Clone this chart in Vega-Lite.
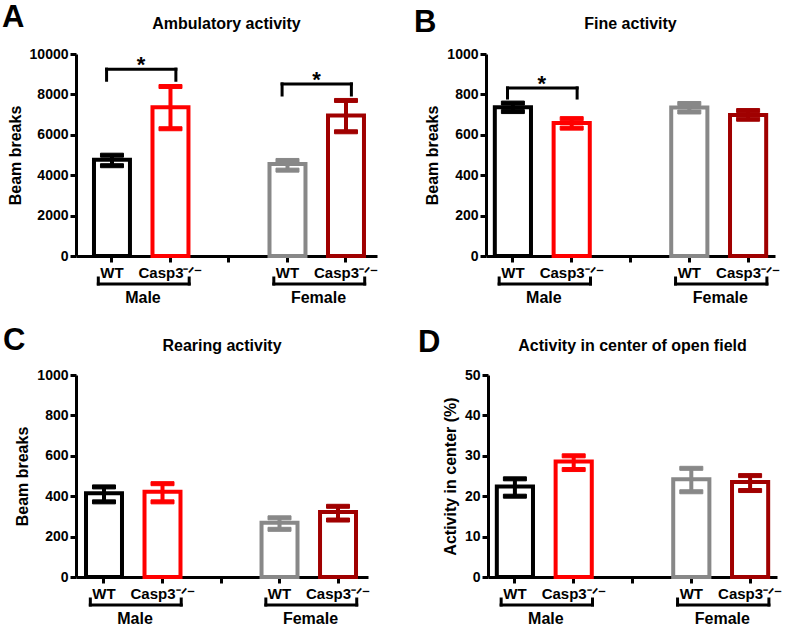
{
  "$schema": "https://vega.github.io/schema/vega-lite/v6.json",
  "padding": {"left": 2, "top": 2, "right": 0, "bottom": 0},
  "background": "white",
  "config": {
    "font": "Liberation Sans",
    "view": {"stroke": null},
    "axis": {"domainColor": "black", "domainWidth": 3, "tickColor": "black", "tickWidth": 3, "tickSize": 6, "labelColor": "black", "labelFontWeight": "bold", "titleColor": "black", "titleFontWeight": "bold", "grid": false},
    "axisY": {"labelFontSize": 14, "titleFontSize": 16, "titlePadding": 6, "labelPadding": 2, "format": "d"},
    "axisX": {"labelFontSize": 15, "labelAngle": 0, "labelPadding": 3},
    "title": {"fontSize": 16, "fontWeight": "bold", "color": "black", "anchor": "middle"},
    "tick": {"opacity": 1}
  },
  "datasets": {
    "bars": [
      {"panel": "A", "cat": "M_WT", "mean": 4770, "lo": 4470, "hi": 4990},
      {"panel": "A", "cat": "M_KO", "mean": 7370, "lo": 6300, "hi": 8390},
      {"panel": "A", "cat": "F_WT", "mean": 4550, "lo": 4250, "hi": 4730},
      {"panel": "A", "cat": "F_KO", "mean": 6960, "lo": 6150, "hi": 7700},
      {"panel": "B", "cat": "M_WT", "mean": 737, "lo": 715, "hi": 757},
      {"panel": "B", "cat": "M_KO", "mean": 658, "lo": 633, "hi": 680},
      {"panel": "B", "cat": "F_WT", "mean": 735, "lo": 713, "hi": 755},
      {"panel": "B", "cat": "F_KO", "mean": 698, "lo": 677, "hi": 720},
      {"panel": "C", "cat": "M_WT", "mean": 415, "lo": 372, "hi": 446},
      {"panel": "C", "cat": "M_KO", "mean": 422, "lo": 372, "hi": 462},
      {"panel": "C", "cat": "F_WT", "mean": 268, "lo": 236, "hi": 293},
      {"panel": "C", "cat": "F_KO", "mean": 322, "lo": 282, "hi": 350},
      {"panel": "D", "cat": "M_WT", "mean": 22.4, "lo": 20.0, "hi": 24.3},
      {"panel": "D", "cat": "M_KO", "mean": 28.6, "lo": 26.6, "hi": 30.0},
      {"panel": "D", "cat": "F_WT", "mean": 24.2, "lo": 21.1, "hi": 26.9},
      {"panel": "D", "cat": "F_KO", "mean": 23.5, "lo": 21.4, "hi": 25.1}
    ],
    "sig": [
      {"panel": "A", "c1": "M_WT", "c2": "M_KO", "y": 9250, "y0": 8700, "label": "*"},
      {"panel": "A", "c1": "F_WT", "c2": "F_KO", "y": 8520, "y0": 7970, "label": "*"},
      {"panel": "B", "c1": "M_WT", "c2": "M_KO", "y": 832, "y0": 782, "label": "*"}
    ],
    "groups": [
      {"c1": "M_WT", "c2": "M_KO", "label": "Male"},
      {"c1": "F_WT", "c2": "F_KO", "label": "Female"}
    ],
    "letters": [
      {"panel": "A", "letter": "A"},
      {"panel": "B", "letter": "B"},
      {"panel": "C", "letter": "C"},
      {"panel": "D", "letter": "D"}
    ]
  },
  "vconcat": [
    {
      "hconcat": [
        {
          "title": {"text": "Ambulatory activity", "offset": -30},
          "width": 301, "height": 202,
          "layer": [
            {
              "data": {"name": "bars"},
              "transform": [{"filter": "datum.panel === 'A'"}],
              "encoding": {
                "x": {"field": "cat", "type": "nominal", "scale": {"domain": ["M_WT", "M_KO", "gap", "F_WT", "F_KO"], "paddingInner": 0.385, "paddingOuter": 0.265, "align": 0.58}, "axis": {"title": null, "labelExpr": "datum.value === 'gap' ? '' : (indexof(datum.value, 'WT') >= 0 ? 'WT' : 'Casp3⁻ᐟ⁻')"}},
                "stroke": {"field": "cat", "type": "nominal", "scale": {"domain": ["M_WT", "M_KO", "F_WT", "F_KO"], "range": ["#000000", "#ff0000", "#888888", "#a00000"]}, "legend": null},
                "color": {"field": "cat", "type": "nominal", "scale": {"domain": ["M_WT", "M_KO", "F_WT", "F_KO"], "range": ["#000000", "#ff0000", "#888888", "#a00000"]}, "legend": null}
              },
              "layer": [
                {"mark": {"type": "bar", "fill": "white", "strokeWidth": 4}, "encoding": {"y": {"field": "mean", "type": "quantitative", "title": "Beam breaks", "scale": {"domain": [0, 10000], "nice": false}, "axis": {"values": [0, 2000, 4000, 6000, 8000, 10000]}}, "color": {"value": "white"}}},
                {"mark": {"type": "rule", "strokeWidth": 4}, "encoding": {"y": {"field": "lo", "type": "quantitative", "title": "Beam breaks", "scale": {"domain": [0, 10000], "nice": false}}, "y2": {"field": "hi"}}},
                {"mark": {"type": "tick", "thickness": 4, "size": 23, "opacity": 1}, "encoding": {"y": {"field": "lo", "type": "quantitative", "title": "Beam breaks", "scale": {"domain": [0, 10000], "nice": false}}}},
                {"mark": {"type": "tick", "thickness": 4, "size": 23, "opacity": 1}, "encoding": {"y": {"field": "hi", "type": "quantitative", "title": "Beam breaks", "scale": {"domain": [0, 10000], "nice": false}}}}
              ]
            },
            {
              "data": {"name": "sig"},
              "transform": [{"filter": "datum.panel === 'A'"}],
              "layer": [
                {"mark": {"type": "rule", "strokeWidth": 3, "color": "black", "strokeCap": "square"}, "encoding": {"x": {"field": "c1", "type": "nominal", "bandPosition": 0.35}, "x2": {"field": "c2", "bandPosition": 0.65}, "y": {"field": "y", "type": "quantitative", "title": "Beam breaks", "scale": {"domain": [0, 10000], "nice": false}}}},
                {"mark": {"type": "rule", "strokeWidth": 3, "color": "black", "strokeCap": "square"}, "encoding": {"x": {"field": "c1", "type": "nominal", "bandPosition": 0.35}, "y": {"field": "y", "type": "quantitative", "title": "Beam breaks", "scale": {"domain": [0, 10000], "nice": false}}, "y2": {"field": "y0"}}},
                {"mark": {"type": "rule", "strokeWidth": 3, "color": "black", "strokeCap": "square"}, "encoding": {"x": {"field": "c2", "type": "nominal", "bandPosition": 0.65}, "y": {"field": "y", "type": "quantitative", "title": "Beam breaks", "scale": {"domain": [0, 10000], "nice": false}}, "y2": {"field": "y0"}}},
                {"mark": {"type": "text", "fontSize": 22, "fontWeight": "bold", "color": "black", "baseline": "alphabetic", "dx": 29, "dy": 3}, "encoding": {"x": {"field": "c1", "type": "nominal"}, "y": {"field": "y", "type": "quantitative", "title": "Beam breaks", "scale": {"domain": [0, 10000], "nice": false}}, "text": {"field": "label"}}}
              ]
            },
            {
              "data": {"name": "groups"},
              "layer": [
                {"mark": {"type": "rule", "strokeWidth": 3, "color": "black", "strokeCap": "square"}, "encoding": {"x": {"field": "c1", "type": "nominal", "bandPosition": 0.12}, "x2": {"field": "c2", "bandPosition": 1.02}, "y": {"value": 230}}},
                {"mark": {"type": "rule", "strokeWidth": 3, "color": "black", "strokeCap": "square"}, "encoding": {"x": {"field": "c1", "type": "nominal", "bandPosition": 0.12}, "y": {"value": 224}, "y2": {"value": 230}}},
                {"mark": {"type": "rule", "strokeWidth": 3, "color": "black", "strokeCap": "square"}, "encoding": {"x": {"field": "c2", "type": "nominal", "bandPosition": 1.02}, "y": {"value": 224}, "y2": {"value": 230}}},
                {"mark": {"type": "text", "fontSize": 16, "fontWeight": "bold", "color": "black", "baseline": "middle", "dx": 31}, "encoding": {"x": {"field": "c1", "type": "nominal"}, "y": {"value": 244}, "text": {"field": "label"}}}
              ]
            },
            {
              "data": {"name": "letters"},
              "transform": [{"filter": "datum.panel === 'A'"}],
              "mark": {"type": "text", "fontSize": 31, "fontWeight": "bold", "color": "black", "align": "left", "baseline": "alphabetic"},
              "encoding": {"x": {"value": -74}, "y": {"value": -27}, "text": {"field": "letter"}}
            }
          ]
        },
        {
          "title": {"text": "Fine activity", "offset": -25},
          "width": 289, "height": 202,
          "layer": [
            {
              "data": {"name": "bars"},
              "transform": [{"filter": "datum.panel === 'B'"}],
              "encoding": {
                "x": {"field": "cat", "type": "nominal", "scale": {"domain": ["M_WT", "M_KO", "gap", "F_WT", "F_KO"], "paddingInner": 0.385, "paddingOuter": 0.15}, "axis": {"title": null, "labelExpr": "datum.value === 'gap' ? '' : (indexof(datum.value, 'WT') >= 0 ? 'WT' : 'Casp3⁻ᐟ⁻')"}},
                "stroke": {"field": "cat", "type": "nominal", "scale": {"domain": ["M_WT", "M_KO", "F_WT", "F_KO"], "range": ["#000000", "#ff0000", "#888888", "#a00000"]}, "legend": null},
                "color": {"field": "cat", "type": "nominal", "scale": {"domain": ["M_WT", "M_KO", "F_WT", "F_KO"], "range": ["#000000", "#ff0000", "#888888", "#a00000"]}, "legend": null}
              },
              "layer": [
                {"mark": {"type": "bar", "fill": "white", "strokeWidth": 4}, "encoding": {"y": {"field": "mean", "type": "quantitative", "title": "Beam breaks", "scale": {"domain": [0, 1000], "nice": false}, "axis": {"values": [0, 200, 400, 600, 800, 1000]}}, "color": {"value": "white"}}},
                {"mark": {"type": "rule", "strokeWidth": 4}, "encoding": {"y": {"field": "lo", "type": "quantitative", "title": "Beam breaks", "scale": {"domain": [0, 1000], "nice": false}}, "y2": {"field": "hi"}}},
                {"mark": {"type": "tick", "thickness": 4, "size": 23, "opacity": 1}, "encoding": {"y": {"field": "lo", "type": "quantitative", "title": "Beam breaks", "scale": {"domain": [0, 1000], "nice": false}}}},
                {"mark": {"type": "tick", "thickness": 4, "size": 23, "opacity": 1}, "encoding": {"y": {"field": "hi", "type": "quantitative", "title": "Beam breaks", "scale": {"domain": [0, 1000], "nice": false}}}}
              ]
            },
            {
              "data": {"name": "sig"},
              "transform": [{"filter": "datum.panel === 'B'"}],
              "layer": [
                {"mark": {"type": "rule", "strokeWidth": 3, "color": "black", "strokeCap": "square"}, "encoding": {"x": {"field": "c1", "type": "nominal", "bandPosition": 0.35}, "x2": {"field": "c2", "bandPosition": 0.65}, "y": {"field": "y", "type": "quantitative", "title": "Beam breaks", "scale": {"domain": [0, 1000], "nice": false}}}},
                {"mark": {"type": "rule", "strokeWidth": 3, "color": "black", "strokeCap": "square"}, "encoding": {"x": {"field": "c1", "type": "nominal", "bandPosition": 0.35}, "y": {"field": "y", "type": "quantitative", "title": "Beam breaks", "scale": {"domain": [0, 1000], "nice": false}}, "y2": {"field": "y0"}}},
                {"mark": {"type": "rule", "strokeWidth": 3, "color": "black", "strokeCap": "square"}, "encoding": {"x": {"field": "c2", "type": "nominal", "bandPosition": 0.65}, "y": {"field": "y", "type": "quantitative", "title": "Beam breaks", "scale": {"domain": [0, 1000], "nice": false}}, "y2": {"field": "y0"}}},
                {"mark": {"type": "text", "fontSize": 22, "fontWeight": "bold", "color": "black", "baseline": "alphabetic", "dx": 29, "dy": 3}, "encoding": {"x": {"field": "c1", "type": "nominal"}, "y": {"field": "y", "type": "quantitative", "title": "Beam breaks", "scale": {"domain": [0, 1000], "nice": false}}, "text": {"field": "label"}}}
              ]
            },
            {
              "data": {"name": "groups"},
              "layer": [
                {"mark": {"type": "rule", "strokeWidth": 3, "color": "black", "strokeCap": "square"}, "encoding": {"x": {"field": "c1", "type": "nominal", "bandPosition": 0.12}, "x2": {"field": "c2", "bandPosition": 1.02}, "y": {"value": 230}}},
                {"mark": {"type": "rule", "strokeWidth": 3, "color": "black", "strokeCap": "square"}, "encoding": {"x": {"field": "c1", "type": "nominal", "bandPosition": 0.12}, "y": {"value": 224}, "y2": {"value": 230}}},
                {"mark": {"type": "rule", "strokeWidth": 3, "color": "black", "strokeCap": "square"}, "encoding": {"x": {"field": "c2", "type": "nominal", "bandPosition": 1.02}, "y": {"value": 224}, "y2": {"value": 230}}},
                {"mark": {"type": "text", "fontSize": 16, "fontWeight": "bold", "color": "black", "baseline": "middle", "dx": 31}, "encoding": {"x": {"field": "c1", "type": "nominal"}, "y": {"value": 244}, "text": {"field": "label"}}}
              ]
            },
            {
              "data": {"name": "letters"},
              "transform": [{"filter": "datum.panel === 'B'"}],
              "mark": {"type": "text", "fontSize": 31, "fontWeight": "bold", "color": "black", "align": "left", "baseline": "alphabetic"},
              "encoding": {"x": {"value": -72}, "y": {"value": -22}, "text": {"field": "letter"}}
            }
          ]
        }
      ],
      "spacing": 36
    },
    {
      "hconcat": [
        {
          "title": {"text": "Rearing activity", "offset": -29},
          "width": 292, "height": 202,
          "layer": [
            {
              "data": {"name": "bars"},
              "transform": [{"filter": "datum.panel === 'C'"}],
              "encoding": {
                "x": {"field": "cat", "type": "nominal", "scale": {"domain": ["M_WT", "M_KO", "gap", "F_WT", "F_KO"], "paddingInner": 0.385, "paddingOuter": 0.188, "align": 0.455}, "axis": {"title": null, "labelExpr": "datum.value === 'gap' ? '' : (indexof(datum.value, 'WT') >= 0 ? 'WT' : 'Casp3⁻ᐟ⁻')"}},
                "stroke": {"field": "cat", "type": "nominal", "scale": {"domain": ["M_WT", "M_KO", "F_WT", "F_KO"], "range": ["#000000", "#ff0000", "#888888", "#a00000"]}, "legend": null},
                "color": {"field": "cat", "type": "nominal", "scale": {"domain": ["M_WT", "M_KO", "F_WT", "F_KO"], "range": ["#000000", "#ff0000", "#888888", "#a00000"]}, "legend": null}
              },
              "layer": [
                {"mark": {"type": "bar", "fill": "white", "strokeWidth": 4}, "encoding": {"y": {"field": "mean", "type": "quantitative", "title": "Beam breaks", "scale": {"domain": [0, 1000], "nice": false}, "axis": {"values": [0, 200, 400, 600, 800, 1000]}}, "color": {"value": "white"}}},
                {"mark": {"type": "rule", "strokeWidth": 4}, "encoding": {"y": {"field": "lo", "type": "quantitative", "title": "Beam breaks", "scale": {"domain": [0, 1000], "nice": false}}, "y2": {"field": "hi"}}},
                {"mark": {"type": "tick", "thickness": 4, "size": 23, "opacity": 1}, "encoding": {"y": {"field": "lo", "type": "quantitative", "title": "Beam breaks", "scale": {"domain": [0, 1000], "nice": false}}}},
                {"mark": {"type": "tick", "thickness": 4, "size": 23, "opacity": 1}, "encoding": {"y": {"field": "hi", "type": "quantitative", "title": "Beam breaks", "scale": {"domain": [0, 1000], "nice": false}}}}
              ]
            },
            {
              "data": {"name": "groups"},
              "layer": [
                {"mark": {"type": "rule", "strokeWidth": 3, "color": "black", "strokeCap": "square"}, "encoding": {"x": {"field": "c1", "type": "nominal", "bandPosition": 0.12}, "x2": {"field": "c2", "bandPosition": 1.02}, "y": {"value": 230}}},
                {"mark": {"type": "rule", "strokeWidth": 3, "color": "black", "strokeCap": "square"}, "encoding": {"x": {"field": "c1", "type": "nominal", "bandPosition": 0.12}, "y": {"value": 224}, "y2": {"value": 230}}},
                {"mark": {"type": "rule", "strokeWidth": 3, "color": "black", "strokeCap": "square"}, "encoding": {"x": {"field": "c2", "type": "nominal", "bandPosition": 1.02}, "y": {"value": 224}, "y2": {"value": 230}}},
                {"mark": {"type": "text", "fontSize": 16, "fontWeight": "bold", "color": "black", "baseline": "middle", "dx": 31}, "encoding": {"x": {"field": "c1", "type": "nominal"}, "y": {"value": 244}, "text": {"field": "label"}}}
              ]
            },
            {
              "data": {"name": "letters"},
              "transform": [{"filter": "datum.panel === 'C'"}],
              "mark": {"type": "text", "fontSize": 31, "fontWeight": "bold", "color": "black", "align": "left", "baseline": "alphabetic"},
              "encoding": {"x": {"value": -73}, "y": {"value": -25}, "text": {"field": "letter"}}
            }
          ]
        },
        {
          "title": {"text": "Activity in center of open field", "offset": -27},
          "width": 289, "height": 202,
          "layer": [
            {
              "data": {"name": "bars"},
              "transform": [{"filter": "datum.panel === 'D'"}],
              "encoding": {
                "x": {"field": "cat", "type": "nominal", "scale": {"domain": ["M_WT", "M_KO", "gap", "F_WT", "F_KO"], "paddingInner": 0.385, "paddingOuter": 0.15}, "axis": {"title": null, "labelExpr": "datum.value === 'gap' ? '' : (indexof(datum.value, 'WT') >= 0 ? 'WT' : 'Casp3⁻ᐟ⁻')"}},
                "stroke": {"field": "cat", "type": "nominal", "scale": {"domain": ["M_WT", "M_KO", "F_WT", "F_KO"], "range": ["#000000", "#ff0000", "#888888", "#a00000"]}, "legend": null},
                "color": {"field": "cat", "type": "nominal", "scale": {"domain": ["M_WT", "M_KO", "F_WT", "F_KO"], "range": ["#000000", "#ff0000", "#888888", "#a00000"]}, "legend": null}
              },
              "layer": [
                {"mark": {"type": "bar", "fill": "white", "strokeWidth": 4}, "encoding": {"y": {"field": "mean", "type": "quantitative", "title": "Activity in center (%)", "scale": {"domain": [0, 50], "nice": false}, "axis": {"values": [0, 10, 20, 30, 40, 50]}}, "color": {"value": "white"}}},
                {"mark": {"type": "rule", "strokeWidth": 4}, "encoding": {"y": {"field": "lo", "type": "quantitative", "title": "Activity in center (%)", "scale": {"domain": [0, 50], "nice": false}}, "y2": {"field": "hi"}}},
                {"mark": {"type": "tick", "thickness": 4, "size": 23, "opacity": 1}, "encoding": {"y": {"field": "lo", "type": "quantitative", "title": "Activity in center (%)", "scale": {"domain": [0, 50], "nice": false}}}},
                {"mark": {"type": "tick", "thickness": 4, "size": 23, "opacity": 1}, "encoding": {"y": {"field": "hi", "type": "quantitative", "title": "Activity in center (%)", "scale": {"domain": [0, 50], "nice": false}}}}
              ]
            },
            {
              "data": {"name": "groups"},
              "layer": [
                {"mark": {"type": "rule", "strokeWidth": 3, "color": "black", "strokeCap": "square"}, "encoding": {"x": {"field": "c1", "type": "nominal", "bandPosition": 0.12}, "x2": {"field": "c2", "bandPosition": 1.02}, "y": {"value": 230}}},
                {"mark": {"type": "rule", "strokeWidth": 3, "color": "black", "strokeCap": "square"}, "encoding": {"x": {"field": "c1", "type": "nominal", "bandPosition": 0.12}, "y": {"value": 224}, "y2": {"value": 230}}},
                {"mark": {"type": "rule", "strokeWidth": 3, "color": "black", "strokeCap": "square"}, "encoding": {"x": {"field": "c2", "type": "nominal", "bandPosition": 1.02}, "y": {"value": 224}, "y2": {"value": 230}}},
                {"mark": {"type": "text", "fontSize": 16, "fontWeight": "bold", "color": "black", "baseline": "middle", "dx": 31}, "encoding": {"x": {"field": "c1", "type": "nominal"}, "y": {"value": 244}, "text": {"field": "label"}}}
              ]
            },
            {
              "data": {"name": "letters"},
              "transform": [{"filter": "datum.panel === 'D'"}],
              "mark": {"type": "text", "fontSize": 31, "fontWeight": "bold", "color": "black", "align": "left", "baseline": "alphabetic"},
              "encoding": {"x": {"value": -70}, "y": {"value": -23}, "text": {"field": "letter"}}
            }
          ]
        }
      ],
      "spacing": 48
    }
  ],
  "spacing": 19
}
